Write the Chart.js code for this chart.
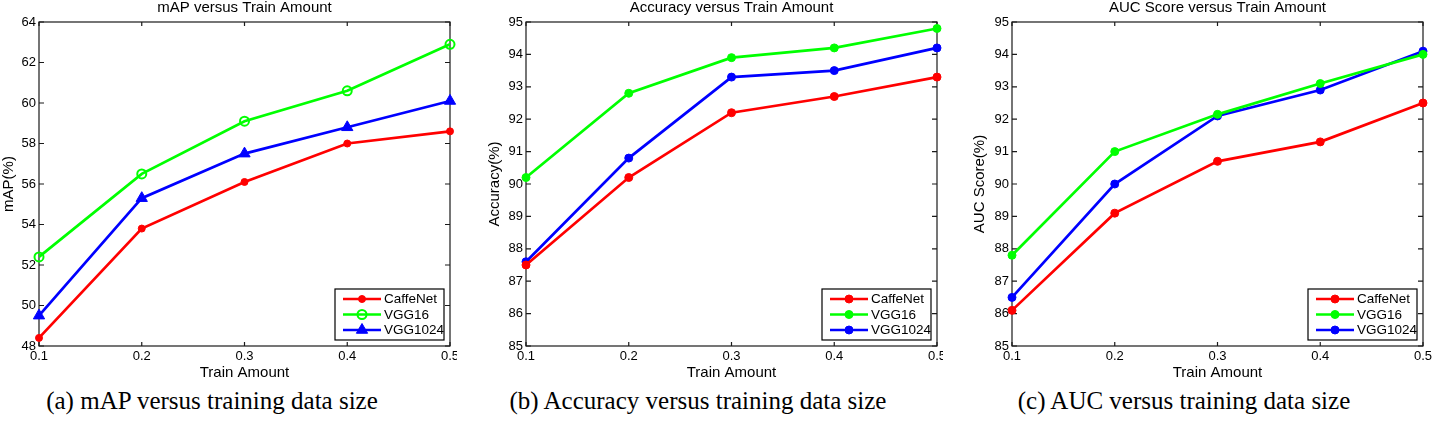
<!DOCTYPE html>
<html>
<head>
<meta charset="utf-8">
<title>Train amount comparison</title>
<script src="https://cdn.jsdelivr.net/npm/chart.js@4.4.1/dist/chart.umd.min.js"></script>
<style>
  body { margin: 0; background: #fff; width: 1434px; height: 423px; overflow: hidden; position: relative; }
  .panel { position: absolute; top: 0; height: 385px; }
  .caption {
    position: absolute; top: 388px; width: 440px; text-align: center;
    font-family: "Liberation Serif", "Times New Roman", serif; font-size: 25px;
    line-height: 25px; color: #000; white-space: nowrap;
  }
</style>
</head>
<body>
<div class="panel" style="left:0;width:457px"><canvas id="mapChart"></canvas></div>
<div class="panel" style="left:470px;width:473px"><canvas id="accChart"></canvas></div>
<div class="panel" style="left:950px;width:484px"><canvas id="aucChart"></canvas></div>
<div class="caption" style="left:-8px">(a) mAP versus training data size</div>
<div class="caption" style="left:478px">(b) Accuracy versus training data size</div>
<div class="caption" style="left:964px">(c) AUC versus training data size</div>

<script>
// x categories (train amount)
const trainAmount = ['0.1', '0.2', '0.3', '0.4', '0.5'];
const seriesNames = ['CaffeNet', 'VGG16', 'VGG1024'];

// mAP (%)
const mapCaffeNet = [48.4, 53.8, 56.1, 58.0, 58.6];
const mapVGG16 = [52.4, 56.5, 59.1, 60.6, 62.9];
const mapVGG1024 = [49.5, 55.3, 57.5, 58.8, 60.1];

// Accuracy (%)
const accCaffeNet = [87.5, 90.2, 92.2, 92.7, 93.3];
const accVGG16 = [90.2, 92.8, 93.9, 94.2, 94.8];
const accVGG1024 = [87.6, 90.8, 93.3, 93.5, 94.2];

// AUC score (%)
const aucCaffeNet = [86.1, 89.1, 90.7, 91.3, 92.5];
const aucVGG16 = [87.8, 91.0, 92.15, 93.1, 94.0];
const aucVGG1024 = [86.5, 90.0, 92.1, 92.9, 94.1];

const FONT = '"Liberation Sans", Arial, Helvetica, sans-serif';
const RED = '#ff0000', GREEN = '#00ff00', BLUE = '#0000ff';

function series(label, data, color, shape, radius, filled) {
    return {
        label: label,
        data: data,
        borderColor: color,
        backgroundColor: color,
        borderWidth: 2.7,
        tension: 0,
        pointStyle: shape,
        pointRadius: radius,
        pointBackgroundColor: filled ? color : 'rgba(0,0,0,0)',
        pointBorderColor: color,
        pointBorderWidth: filled ? 1 : 2,
        clip: false
    };
}

// small marker drawer for the legend samples
function drawMarker(ctx, ds, x, y) {
    const r = ds.pointRadius;
    ctx.beginPath();
    if (ds.pointStyle === 'triangle') {
        let rad = 0;
        ctx.moveTo(x + Math.sin(rad) * r, y - Math.cos(rad) * r);
        rad += 2 * Math.PI / 3;
        ctx.lineTo(x + Math.sin(rad) * r, y - Math.cos(rad) * r);
        rad += 2 * Math.PI / 3;
        ctx.lineTo(x + Math.sin(rad) * r, y - Math.cos(rad) * r);
        ctx.closePath();
    } else {
        ctx.arc(x, y, r, 0, Math.PI * 2);
    }
    ctx.fillStyle = ds.pointBackgroundColor;
    ctx.fill();
    ctx.lineWidth = ds.pointBorderWidth;
    ctx.strokeStyle = ds.pointBorderColor;
    ctx.stroke();
}

// matlab style box with inward ticks, title on top and legend in the lower right
const matlabFrame = {
    id: 'matlabFrame',
    beforeDatasetsDraw(chart) {
        const ctx = chart.ctx;
        const a = chart.chartArea;
        const x = chart.scales.x, y = chart.scales.y;
        ctx.save();
        ctx.strokeStyle = '#1a1a1a';
        ctx.lineWidth = 1.2;
        ctx.strokeRect(a.left, a.top, a.right - a.left, a.bottom - a.top);
        ctx.beginPath();
        x.ticks.forEach((t, i) => {
            const px = x.getPixelForTick(i);
            ctx.moveTo(px, a.bottom); ctx.lineTo(px, a.bottom - 4);
            ctx.moveTo(px, a.top); ctx.lineTo(px, a.top + 4);
        });
        y.ticks.forEach((t, i) => {
            const py = y.getPixelForTick(i);
            ctx.moveTo(a.left, py); ctx.lineTo(a.left + 5, py);
            ctx.moveTo(a.right, py); ctx.lineTo(a.right - 5, py);
        });
        ctx.stroke();
        ctx.restore();
    },
    afterDraw(chart, args, opts) {
        const ctx = chart.ctx;
        const a = chart.chartArea;
        ctx.save();

        // title
        ctx.fillStyle = '#000';
        ctx.font = '15px ' + FONT;
        ctx.textAlign = 'center';
        ctx.textBaseline = 'alphabetic';
        ctx.fillText(opts.title, (a.left + a.right) / 2, 11.5);

        // legend
        const w = 109, h = 51;
        const bx = a.right - 6 - w, by = a.bottom - 6 - h;
        ctx.fillStyle = '#fff';
        ctx.fillRect(bx, by, w, h);
        ctx.strokeStyle = '#000';
        ctx.lineWidth = 1.2;
        ctx.strokeRect(bx, by, w, h);
        ctx.font = '13.5px ' + FONT;
        ctx.textAlign = 'left';
        ctx.textBaseline = 'middle';
        chart.data.datasets.forEach((ds, i) => {
            const ry = by + 10 + i * 15.5;
            ctx.beginPath();
            ctx.moveTo(bx + 8, ry);
            ctx.lineTo(bx + 46, ry);
            ctx.strokeStyle = ds.borderColor;
            ctx.lineWidth = ds.borderWidth;
            ctx.stroke();
            drawMarker(ctx, ds, bx + 27, ry);
            ctx.fillStyle = '#000';
            ctx.fillText(ds.label, bx + 49, ry + 0.5);
        });
        ctx.restore();
    }
};

function makeChart(id, title, yTitle, datasets, yMin, yMax, yStep, geom) {
    const ctx = document.getElementById(id).getContext('2d');
    return new Chart(ctx, {
        type: 'line',
        data: {
            labels: trainAmount,
            datasets: datasets
        },
        options: {
            responsive: true,
            maintainAspectRatio: false,
            animation: false,
            layout: {
                padding: { top: 22, right: geom.padRight, left: 0, bottom: 0 },
                autoPadding: false
            },
            plugins: {
                legend: { display: false },
                tooltip: { enabled: false },
                matlabFrame: { title: title }
            },
            scales: {
                x: {
                    type: 'category',
                    offset: false,
                    grid: { display: false, drawTicks: false, tickLength: 0 },
                    border: { display: false },
                    ticks: { color: '#000', font: { family: FONT, size: 13 }, padding: 3, autoSkip: false, maxRotation: 0 },
                    title: { display: true, text: 'Train Amount', color: '#000', font: { family: FONT, size: 15 }, padding: { top: 0, bottom: 3 } },
                    afterFit(scale) {
                        scale.height = 39;
                        scale.paddingLeft = 0;
                        scale.paddingRight = 0;
                    }
                },
                y: {
                    min: yMin,
                    max: yMax,
                    grid: { display: false, drawTicks: false, tickLength: 0 },
                    border: { display: false },
                    ticks: { stepSize: yStep, color: '#000', font: { family: FONT, size: 13 }, padding: 3 },
                    title: { display: true, text: yTitle, color: '#000', font: { family: FONT, size: 15 }, padding: { top: geom.yTitlePad, bottom: 0 } },
                    afterFit(scale) {
                        scale.width = geom.axisWidth;
                        scale.paddingTop = 0;
                        scale.paddingBottom = 0;
                    }
                }
            }
        },
        plugins: [matlabFrame]
    });
}

const chart_map = makeChart('mapChart', 'mAP versus Train Amount', 'mAP(%)', [
    series(seriesNames[0], mapCaffeNet, RED, 'circle', 3.5, true),
    series(seriesNames[1], mapVGG16, GREEN, 'circle', 4.5, false),
    series(seriesNames[2], mapVGG1024, BLUE, 'triangle', 6.5, true)
], 48, 64, 2, { axisWidth: 39, padRight: 7, yTitlePad: 0 });

const chart_acc = makeChart('accChart', 'Accuracy versus Train Amount', 'Accuracy(%)', [
    series(seriesNames[0], accCaffeNet, RED, 'circle', 4, true),
    series(seriesNames[1], accVGG16, GREEN, 'circle', 4, true),
    series(seriesNames[2], accVGG1024, BLUE, 'circle', 4, true)
], 85, 95, 1, { axisWidth: 56, padRight: 6, yTitlePad: 16 });

const chart_auc = makeChart('aucChart', 'AUC Score versus Train Amount', 'AUC Score(%)', [
    series(seriesNames[0], aucCaffeNet, RED, 'circle', 4, true),
    series(seriesNames[1], aucVGG16, GREEN, 'circle', 4, true),
    series(seriesNames[2], aucVGG1024, BLUE, 'circle', 4, true)
], 85, 95, 1, { axisWidth: 62, padRight: 11, yTitlePad: 20.5 });
</script>
</body>
</html>
